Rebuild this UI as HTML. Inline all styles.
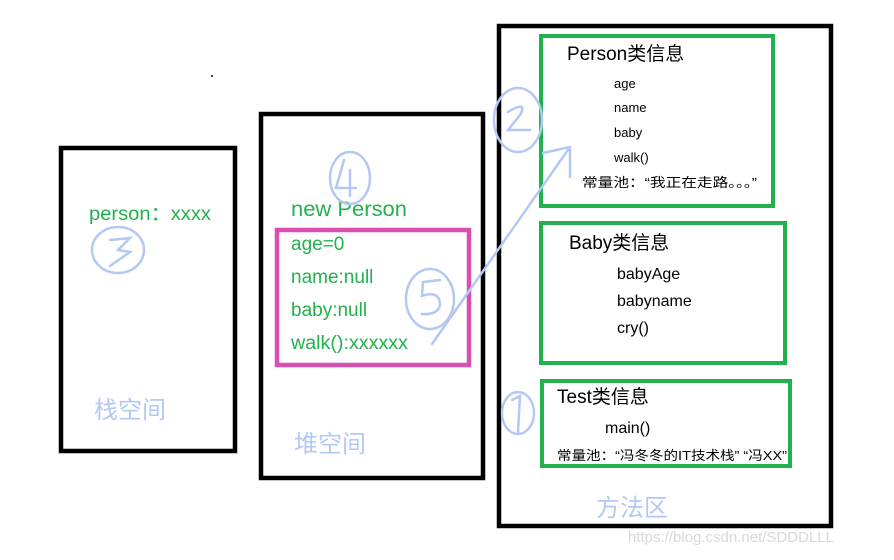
<!DOCTYPE html>
<html><head><meta charset="utf-8"><style>
html,body{margin:0;padding:0;background:#fff;width:894px;height:560px;overflow:hidden}
svg{display:block}
text{font-family:"Liberation Sans","Noto Sans CJK SC",sans-serif}
</style></head><body>
<svg width="894" height="560" viewBox="0 0 894 560" xmlns="http://www.w3.org/2000/svg">
<g fill="none" stroke="#000" stroke-width="4.5">
<rect x="61" y="148" width="174" height="303"/>
<rect x="261" y="114" width="222" height="364"/>
<rect x="499" y="26" width="332" height="500"/>
</g>
<g fill="none" stroke="#22b14c" stroke-width="4">
<rect x="541" y="36" width="232" height="170"/>
<rect x="541" y="223" width="244" height="140"/>
<rect x="542" y="381" width="248" height="85"/>
</g>
<rect x="277" y="230" width="192" height="135" fill="none" stroke="#d94fb0" stroke-width="4.5"/>
<circle cx="212" cy="76" r="1" fill="#000"/>
<g fill="#22b14c" font-size="19">
<text x="89" y="220" textLength="122" lengthAdjust="spacingAndGlyphs">person：xxxx</text>
<text x="291" y="216" font-size="21" textLength="116" lengthAdjust="spacingAndGlyphs">new Person</text>
<text x="291" y="250">age=0</text>
<text x="291" y="283">name:null</text>
<text x="291" y="316">baby:null</text>
<text x="291" y="349" textLength="117" lengthAdjust="spacingAndGlyphs">walk():xxxxxx</text>
</g>
<g fill="#000">
<text x="567" y="60" font-size="19">Person类信息</text>
<text x="614" y="88" font-size="13">age</text>
<text x="614" y="112" font-size="13">name</text>
<text x="614" y="137" font-size="13">baby</text>
<text x="614" y="162" font-size="13">walk()</text>
<text x="582" y="187" font-size="13" textLength="175" lengthAdjust="spacingAndGlyphs">常量池：“我正在走路。。。”</text>
<text x="569" y="249" font-size="19">Baby类信息</text>
<text x="617" y="279" font-size="16">babyAge</text>
<text x="617" y="306" font-size="16">babyname</text>
<text x="617" y="333" font-size="16">cry()</text>
<text x="557" y="403" font-size="19">Test类信息</text>
<text x="605" y="433" font-size="16">main()</text>
<text x="557" y="460" font-size="13" textLength="230" lengthAdjust="spacingAndGlyphs">常量池：“冯冬冬的IT技术栈”  “冯XX”</text>
</g>
<g fill="#b4c8f5" font-size="24">
<text x="94" y="418">栈空间</text>
<text x="294" y="452">堆空间</text>
<text x="596" y="516">方法区</text>
</g>
<text x="628" y="542" font-size="15" fill="#d8d8d8">https://blog.csdn.net/SDDDLLL</text>
<g fill="none" stroke="#b4c8f5" stroke-width="2.5" stroke-linecap="round">
<path d="M432 344 L570 147 M543 153 L570 147 M570 150 L570 177"/>
<ellipse cx="518" cy="120" rx="24" ry="32"/>
<path d="M508 112 Q528 100 520 115 L508 130 L530 130"/>
<ellipse cx="118" cy="250" rx="26" ry="23"/>
<path d="M110 240 L130 238 L118 250 L130 252 L110 266"/>
<ellipse cx="350" cy="178" rx="20" ry="26"/>
<path d="M344 160 L336 188 L356 188 M350 170 L350 196"/>
<ellipse cx="430" cy="299" rx="24" ry="30"/>
<path d="M440 280 L423 282 L422 296 Q440 290 440 305 Q438 315 422 314"/>
<ellipse cx="518" cy="413" rx="16" ry="21"/>
<path d="M512 400 L520 396 L518 432"/>
</g>
</svg>
</body></html>
